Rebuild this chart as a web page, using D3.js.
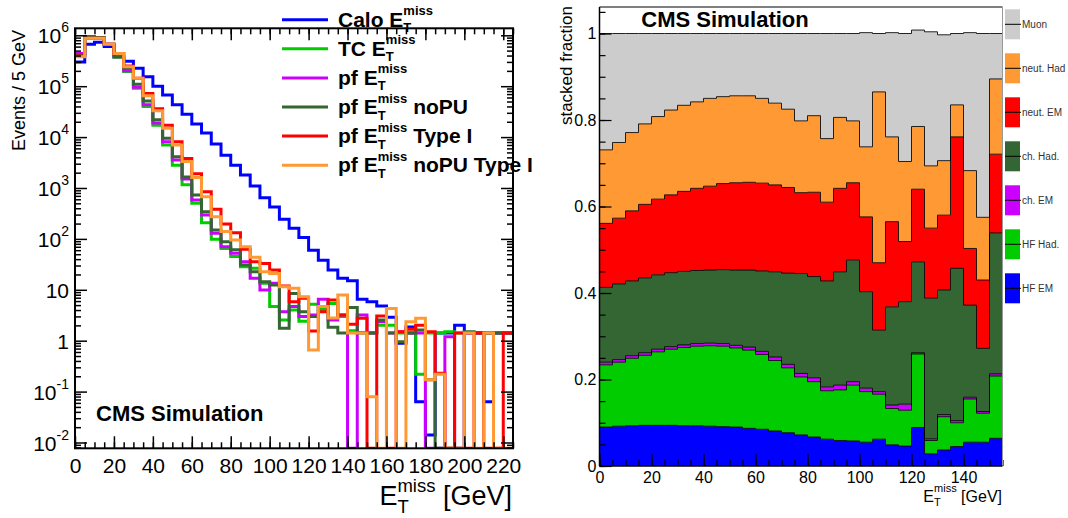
<!DOCTYPE html>
<html><head><meta charset="utf-8">
<script src="https://cdn.jsdelivr.net/npm/d3@7"></script>
<style>body{margin:0;background:#fff} svg{display:block}</style>
</head><body>
<svg id="c" width="1068" height="518"></svg>
<script>
// ---------------- DATA ----------------
// Left panel: events per 5 GeV bin, 0-225 GeV (45 bins)
const leftBinWidth = 5;
const caloMET = [3.0e5,6.7e5,7.3e5,6.0e5,4.4e5,3.1e5,2.25e5,1.54e5,1.0e5,6.7e4,4.3e4,2.8e4,1.8e4,1.2e4,7.3e3,4.4e3,2.8e3,1.8e3,1.1e3,645,424,243,161,107,60,38,24.5,16.8,15.1,6.5,5.8,4.8,2.9,0.89,1.86,0.063,0.014,1.42,1.42,2.0,1.42,1.42,0.063,1.42,1.42];
const tcMET = [4.3e5,9.3e5,8.9e5,6.6e5,3.7e5,1.95e5,9.1e4,4.0e4,1.7e4,7.0e3,2.8e3,1160,500,208,98,65,45,28.4,26.4,13.4,4.7,2.55,4.0,2.4,5.2,4.1,5.4,3.0,1.57,1.45,1.42,2.0,2.0,1.42,1.42,0.22,1.42,1.42,1.5,1.42,1.42,1.42,1.42,1.42,1.42];
const pfMET = [4.4e5,9.4e5,9.0e5,6.7e5,3.8e5,2.0e5,9.5e4,4.3e4,1.9e4,8.1e3,3.55e3,1500,580,295,129,70,52,35.7,16.8,9.9,13.4,3.7,4.7,3.0,3.2,6.5,2.55,3.2,0,3.2,1.42,2.35,1.42,1.5,1.42,1.42,0,0,1.2,0,1.42,1.42,1.42,1.42,1.42];
const pfNoPU = [4.1e5,9.4e5,9.0e5,6.7e5,3.8e5,2.24e5,1.09e5,5.1e4,2.2e4,9.5e3,4.1e3,1650,730,342,150,88,61,30.7,22.7,14.4,12.4,1.75,8.5,3.7,3.0,4.7,1.83,1.42,4.5,1.42,1.42,2.55,1.42,0.95,1.42,1.62,0.17,0,0,0,1.5,1.42,1.42,1.42,1.42];
const pfTypeI = [3.9e5,8.7e5,8.7e5,6.7e5,4.4e5,2.5e5,1.43e5,7.2e4,3.6e4,1.7e4,8.1e3,3.8e3,1900,845,382,196,132,62.5,35.7,33,24.5,11.9,5.8,6.8,1.55,3.7,6.3,3.2,2.1,2.75,0,3.05,0,1.5,1.67,2.0,1.5,0.23,0,1.42,0,1.42,0,0,1.42];
const pfNoPUTypeI = [3.8e5,8.7e5,8.7e5,6.7e5,4.4e5,2.4e5,1.43e5,6.5e4,3.3e4,1.5e4,7.0e3,3.3e3,1600,675,273,139,95,70,43.5,22.7,21,11.5,10.7,7.3,0.66,4.7,2.8,7.9,1.42,1.42,0.079,0,4.3,0,2.35,2.75,0.17,0.22,0,0,1.42,0,1.42,0,0];
const leftSeriesLabels = [["Calo ",""],["TC ",""],["pf ",""],["pf "," noPU"],["pf "," Type I"],["pf "," noPU Type I"]];
const leftYTicks = [1e-2,1e-1,1,10,1e2,1e3,1e4,1e5,1e6];
const leftXTicks = [0,20,40,60,80,100,120,140,160,180,200,220];

// Right panel: stacked fractions per 5 GeV bin, 0-155 GeV (31 bins)
const rightBinWidth = 5;
const hfEM   = [0.090,0.092,0.093,0.094,0.094,0.094,0.093,0.093,0.092,0.091,0.090,0.087,0.085,0.081,0.077,0.072,0.067,0.062,0.059,0.058,0.055,0.062,0.049,0.046,0.089,0.028,0.037,0.045,0.055,0.055,0.064];
const hfHad  = [0.144,0.148,0.156,0.162,0.170,0.176,0.181,0.184,0.186,0.186,0.183,0.181,0.173,0.163,0.150,0.134,0.128,0.112,0.117,0.129,0.117,0.104,0.084,0.083,0.170,0.031,0.077,0.055,0.100,0.067,0.144];
const chEM   = [0.006,0.006,0.006,0.006,0.006,0.006,0.006,0.006,0.006,0.006,0.006,0.007,0.007,0.008,0.008,0.008,0.009,0.009,0.011,0.008,0.008,0.006,0.008,0.014,0.003,0.004,0.005,0.005,0.004,0.004,0.005];
const chHad  = [0.173,0.175,0.173,0.173,0.172,0.171,0.170,0.169,0.169,0.171,0.174,0.178,0.186,0.197,0.211,0.231,0.234,0.245,0.262,0.281,0.223,0.142,0.227,0.237,0.210,0.325,0.288,0.352,0.213,0.146,0.326];
const neutEM = [0.148,0.152,0.162,0.170,0.175,0.180,0.185,0.190,0.194,0.199,0.202,0.203,0.203,0.201,0.198,0.187,0.195,0.182,0.193,0.179,0.173,0.156,0.197,0.139,0.168,0.162,0.173,0.304,0.131,0.158,0.182];
const neutHad= [0.170,0.175,0.181,0.186,0.191,0.196,0.199,0.200,0.203,0.201,0.201,0.200,0.196,0.189,0.181,0.166,0.177,0.147,0.164,0.143,0.162,0.395,0.196,0.185,0.145,0.144,0.126,0.074,0.180,0.145,0.174];
const muon   = [0.269,0.252,0.229,0.209,0.192,0.177,0.166,0.158,0.150,0.146,0.144,0.144,0.150,0.161,0.175,0.202,0.190,0.243,0.194,0.202,0.264,0.135,0.241,0.296,0.223,0.310,0.291,0.165,0.319,0.425,0.105];
const stackKeys = ["hfEM","hfHad","chEM","chHad","neutEM","neutHad","muon"];
const stackLabels = ["HF EM","HF Had.","ch. EM","ch. Had.","neut. EM","neut. Had","Muon"];
const rightYTicks = [0,0.2,0.4,0.6,0.8,1];
const rightXTicks = [0,20,40,60,80,100,120,140];

// ---------------- STYLE ----------------
const FONT = '"Liberation Sans", Arial, Helvetica, sans-serif';
const leftColors = ["#0000ff","#00cc00","#cc00ff","#336633","#ff0000","#ff9933"];
const stackColors = {hfEM:"#0000ff",hfHad:"#00cc00",chEM:"#cc00ff",chHad:"#336633",neutEM:"#ff0000",neutHad:"#ff9933",muon:"#cccccc"};

const svg = d3.select("#c").style("font-family", FONT);

function metLabel(parent, o) {
  const g = parent.append("g").attr("font-weight", o.weight || "normal").attr("fill", o.fill || "#000");
  const a = g.append("text").attr("font-size", o.size).style("white-space","pre").text(o.pre + "E");
  const wa = a.node().getComputedTextLength();
  const sup = g.append("text").attr("x", wa).attr("y", -o.supDy).attr("font-size", o.small).text("miss");
  const sub = g.append("text").attr("x", wa).attr("y", o.subDy).attr("font-size", o.small).text("T");
  const ws = Math.max(sup.node().getComputedTextLength(), sub.node().getComputedTextLength());
  let wc = 0;
  if (o.post) {
    const c = g.append("text").attr("x", wa + ws).attr("font-size", o.size).style("white-space","pre").text(o.post);
    wc = c.node().getComputedTextLength();
  }
  const tot = wa + ws + wc;
  g.attr("transform", `translate(${o.anchor === "end" ? o.x - tot : o.x},${o.y})`);
}

// ================= LEFT PANEL =================
const L = {x0:75, x1:513, y0:28.3, y1:448.3};
const xL = d3.scaleLinear().domain([0, 225]).range([L.x0, L.x1]);
const yL = d3.scaleLog().domain([0.00769, 1.372e6]).range([L.y1, L.y0]);
const yFloor = yL.domain()[0];

svg.append("clipPath").attr("id","clipL").append("rect")
  .attr("x", L.x0).attr("y", L.y0).attr("width", L.x1-L.x0).attr("height", L.y1-L.y0);

const stepLine = d3.line().curve(d3.curveStepAfter);
function stepPts(vals, x, y, bw, floor) {
  const p = vals.map((v,i) => [x(i*bw), y(Math.max(v, floor))]);
  p.push([x(vals.length*bw), y(Math.max(vals[vals.length-1], floor))]);
  return p;
}
const leftSeries = [caloMET, tcMET, pfMET, pfNoPU, pfTypeI, pfNoPUTypeI];
const gL = svg.append("g").attr("clip-path","url(#clipL)");
leftSeries.forEach((s,k) => {
  gL.append("path").attr("d", stepLine(stepPts(s, xL, yL, leftBinWidth, yFloor)))
    .attr("fill","none").attr("stroke", leftColors[k]).attr("stroke-width", 3)
    .attr("stroke-linejoin","miter");
});

// minor log ticks
const leftYMinor = [];
for (let e = -3; e <= 6; e++) for (let m = 2; m <= 9; m++) {
  const v = m * Math.pow(10, e);
  if (v > yL.domain()[0] && v < yL.domain()[1]) leftYMinor.push(v);
}
const leftXMinor = d3.range(0, 226, 5);

function styleAxis(g) {
  g.select(".domain").remove();
  g.selectAll(".tick line").attr("stroke","#000").attr("stroke-width",1.5);
}
// left axis
const axL = svg.append("g").attr("transform",`translate(${L.x0},0)`);
axL.append("g").call(d3.axisLeft(yL).tickValues(leftYMinor).tickSize(-6).tickFormat("")).call(styleAxis);
const axLmaj = axL.append("g").call(d3.axisLeft(yL).tickValues(leftYTicks).tickSize(-12).tickPadding(6).tickFormat("")).call(styleAxis);
axLmaj.attr("font-family", FONT).attr("font-size", 21);
axLmaj.selectAll(".tick text").attr("fill","#000").attr("dy","0.36em").each(function(d){
  const e = Math.round(Math.log10(d));
  const t = d3.select(this);
  if (e === 0) t.text("1");
  else if (e === 1) t.text("10");
  else {
    t.append("tspan").text("10");
    t.append("tspan").attr("dy", -11).attr("font-size", 14).text(String(e));
  }
});
// right axis
const axR = svg.append("g").attr("transform",`translate(${L.x1},0)`);
axR.append("g").call(d3.axisRight(yL).tickValues(leftYMinor).tickSize(-6).tickFormat("")).call(styleAxis);
axR.append("g").call(d3.axisRight(yL).tickValues(leftYTicks).tickSize(-12).tickFormat("")).call(styleAxis);
// bottom axis
const axB = svg.append("g").attr("transform",`translate(0,${L.y1})`);
axB.append("g").call(d3.axisBottom(xL).tickValues(leftXMinor).tickSize(-6).tickFormat("")).call(styleAxis);
const axBmaj = axB.append("g").call(d3.axisBottom(xL).tickValues(leftXTicks).tickSize(-12).tickPadding(10).tickFormat(d3.format("d"))).call(styleAxis);
axBmaj.attr("font-family", FONT).attr("font-size", 21);
axBmaj.selectAll(".tick text").attr("fill","#000");
// top axis
const axT = svg.append("g").attr("transform",`translate(0,${L.y0})`);
axT.append("g").call(d3.axisTop(xL).tickValues(leftXMinor).tickSize(-6).tickFormat("")).call(styleAxis);
axT.append("g").call(d3.axisTop(xL).tickValues(leftXTicks).tickSize(-12).tickFormat("")).call(styleAxis);
// frame
svg.append("rect").attr("x",L.x0).attr("y",L.y0).attr("width",L.x1-L.x0).attr("height",L.y1-L.y0)
  .attr("fill","none").attr("stroke","#000").attr("stroke-width",2);

// titles
svg.append("text").attr("transform","translate(25,30) rotate(-90)").attr("text-anchor","end")
  .attr("font-size",18).text("Events / 5 GeV");
metLabel(svg, {x:512, y:505, pre:"", post:" [GeV]", size:27, small:18.5, supDy:13, subDy:8, anchor:"end"});
svg.append("text").attr("x",96).attr("y",421).attr("font-size",22).attr("font-weight","bold").text("CMS Simulation");

// legend
leftSeriesLabels.forEach((lab,i) => {
  const yb = 26.7 + 29.1*i;
  svg.append("line").attr("x1",282).attr("x2",328).attr("y1",yb-7).attr("y2",yb-7)
    .attr("stroke",leftColors[i]).attr("stroke-width",3);
  metLabel(svg, {x:338, y:yb, pre:lab[0], post:lab[1], size:21, small:13, supDy:11.5, subDy:5.5, weight:"bold"});
});

// ================= RIGHT PANEL =================
const R = {x0:599.5, x1:1002.5, y0:7, y1:466};
const xR = d3.scaleLinear().domain([0, 155]).range([R.x0, R.x1]);
const yR = d3.scaleLinear().domain([0, 1.0613]).range([R.y1, R.y0]);
const fracTable = hfEM.map((_,i) => ({
  bin: i*rightBinWidth, hfEM:hfEM[i], hfHad:hfHad[i], chEM:chEM[i], chHad:chHad[i],
  neutEM:neutEM[i], neutHad:neutHad[i], muon:muon[i]
}));
const stacked = d3.stack().keys(stackKeys)(fracTable);
const areaR = d3.area().curve(d3.curveStepAfter).x(d=>xR(d.x)).y0(d=>yR(d.y0)).y1(d=>yR(d.y1));
const lineR = d3.line().curve(d3.curveStepAfter).x(d=>xR(d.x)).y(d=>yR(d.y1));
const gR = svg.append("g");
stacked.forEach(layer => {
  const pts = layer.map(d => ({x:d.data.bin, y0:d[0], y1:d[1]}));
  const last = layer[layer.length-1];
  pts.push({x:last.data.bin + rightBinWidth, y0:last[0], y1:last[1]});
  gR.append("path").attr("d", areaR(pts)).attr("fill", stackColors[layer.key]).attr("stroke","none");
  layer._pts = pts;
});
stacked.forEach(layer => {
  gR.append("path").attr("d", lineR(layer._pts)).attr("fill","none").attr("stroke","#000").attr("stroke-width",1).attr("opacity",0.85);
});

// axes
const rYMinor = d3.range(0,22).map(i => i*0.05);
const rXMinor = d3.range(0,156,5);
const aRL = svg.append("g").attr("transform",`translate(${R.x0},0)`);
aRL.append("g").call(d3.axisLeft(yR).tickValues(rYMinor).tickSize(-6).tickFormat("")).call(styleAxis);
const aRLm = aRL.append("g").call(d3.axisLeft(yR).tickValues(rightYTicks).tickSize(-12).tickPadding(3).tickFormat(d3.format("~g"))).call(styleAxis);
aRLm.attr("font-family",FONT).attr("font-size",16);
aRLm.selectAll(".tick text").attr("fill","#000");
const aRB = svg.append("g").attr("transform",`translate(0,${R.y1})`);
aRB.append("g").call(d3.axisBottom(xR).tickValues(rXMinor).tickSize(-6).tickFormat("")).call(styleAxis);
const aRBm = aRB.append("g").call(d3.axisBottom(xR).tickValues(rightXTicks).tickSize(-12).tickPadding(6).tickFormat(d3.format("d"))).call(styleAxis);
aRBm.attr("font-family",FONT).attr("font-size",16);
aRBm.selectAll(".tick text").attr("fill","#000");
aRB.selectAll(".tick line").attr("stroke-width",1.2);
aRL.selectAll(".tick line").attr("stroke-width",1.2);

// frame
svg.append("line").attr("x1",R.x0).attr("x2",R.x1).attr("y1",R.y0).attr("y2",R.y0).attr("stroke","#000").attr("stroke-width",1.2);
svg.append("line").attr("x1",R.x1).attr("x2",R.x1).attr("y1",R.y0).attr("y2",R.y1).attr("stroke","#999").attr("stroke-width",1);
svg.append("line").attr("x1",R.x0).attr("x2",R.x0).attr("y1",R.y0).attr("y2",R.y1).attr("stroke","#000").attr("stroke-width",1.5);
svg.append("line").attr("x1",R.x0).attr("x2",R.x1).attr("y1",R.y1).attr("y2",R.y1).attr("stroke","#000").attr("stroke-width",1.5);

svg.append("text").attr("x",725).attr("y",27).attr("text-anchor","middle").attr("font-size",22).attr("font-weight","bold").text("CMS Simulation");
svg.append("text").attr("transform","translate(572,6) rotate(-90)").attr("text-anchor","end").attr("font-size",17).text("stacked fraction");
metLabel(svg, {x:1002, y:502, pre:"", post:" [GeV]", size:16, small:11, supDy:10, subDy:4, anchor:"end"});

// legend (top to bottom: reverse of stacking order)
const legOrder = stackKeys.slice().reverse();
legOrder.forEach((k,i) => {
  const top = 9.3 + 44*i;
  svg.append("rect").attr("x",1005).attr("y",top).attr("width",15).attr("height",30).attr("fill",stackColors[k]);
  svg.append("line").attr("x1",1005).attr("x2",1021).attr("y1",top+15).attr("y2",top+15).attr("stroke","#000").attr("stroke-width",1);
  svg.append("text").attr("x",1022).attr("y",top+18.5).attr("font-size",10).attr("fill","#333")
    .text(stackLabels[stackKeys.indexOf(k)]);
});
</script>
</body></html>
